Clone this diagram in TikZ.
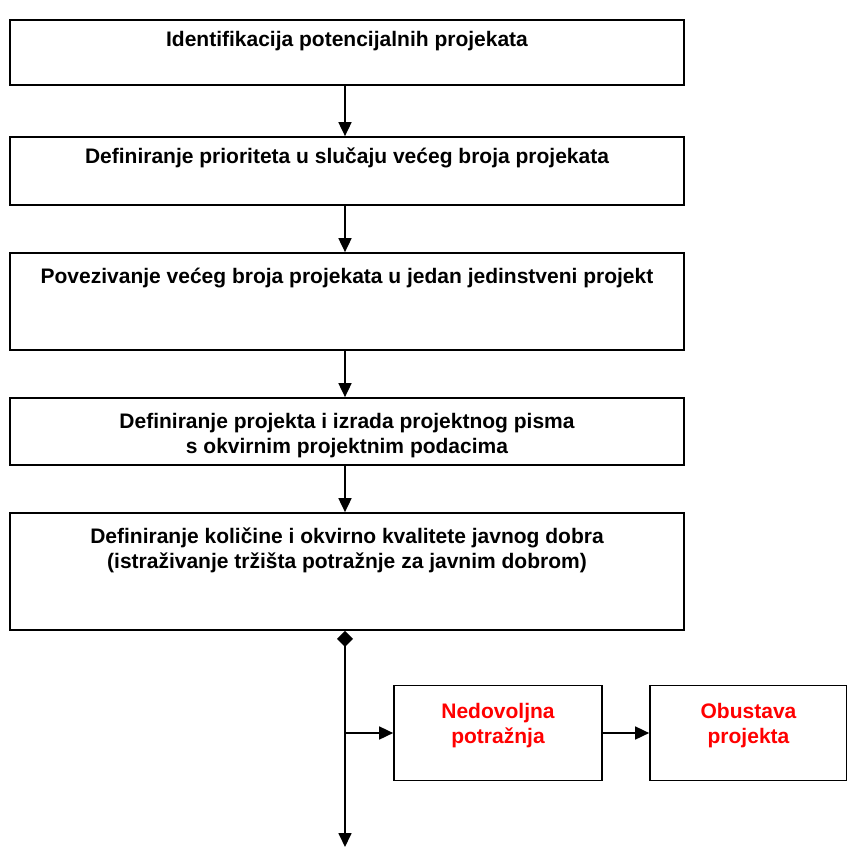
\documentclass[tikz,border=0pt]{standalone}
\usepackage{fontspec}
\setmainfont{Liberation Sans}
\usetikzlibrary{arrows.meta}
\begin{document}
\begin{tikzpicture}[x=1pt,y=1pt,
  box/.style={draw,line width=1.7pt,minimum width=674pt,inner sep=0pt},
  sidebox/.style={draw,line width=1.7pt,minimum width=208pt,minimum height=95pt,inner sep=0pt},
  txt/.style={font=\fontsize{21}{25}\selectfont\bfseries,align=center,inner sep=0pt,anchor=base},
  redtxt/.style={txt,text=red},
  flow/.style={line width=1.7pt,-{Triangle[length=14pt,width=13pt]}}]
\useasboundingbox (0,0) rectangle (847,-847);
% main column of steps
\node[box,minimum height=65pt] (b1) at (347,-52.5) {};
\node[box,minimum height=68pt] (b2) at (347,-171) {};
\node[box,minimum height=97pt] (b3) at (347,-301.5) {};
\node[box,minimum height=67pt] (b4) at (347,-431.5) {};
\node[box,minimum height=117pt] (b5) at (347,-571.5) {};
% step labels (base anchor sits on the last line)
\node[txt] (t1) at (347,-46) {Identifikacija potencijalnih projekata};
\node[txt] (t2) at (347,-163) {Definiranje prioriteta u slučaju većeg broja projekata};
\node[txt] (t3) at (347,-283) {Povezivanje većeg broja projekata u jedan jedinstveni projekt};
\node[txt] (t4) at (347,-453) {Definiranje projekta i izrada projektnog pisma\\ s okvirnim projektnim podacima};
\node[txt] (t5) at (347,-568) {Definiranje količine i okvirno kvalitete javnog dobra\\(istraživanje tržišta potražnje za javnim dobrom)};
% side branch
\node[sidebox] (n1) at (498,-733) {};
\node[sidebox,minimum width=197pt] (n2) at (748.5,-733) {};
\node[redtxt] (r1) at (498,-743) {Nedovoljna\\potražnja};
\node[redtxt] (r2) at (748.5,-743) {Obustava\\projekta};
% connectors
\coordinate (x1) at (345,-85);
\draw[flow] (b1.south -| x1) -- (b2.north -| x1);
\draw[flow] (b2.south -| x1) -- (b3.north -| x1);
\draw[flow] (b3.south -| x1) -- (b4.north -| x1);
\draw[flow] (b4.south -| x1) -- (b5.north -| x1);
\coordinate (end) at (345,-847);
\coordinate (split) at (345,-733);
\draw[flow,{Diamond[length=16pt,width=16pt]}-{Triangle[length=14pt,width=13pt]}] (b5.south -| x1) -- (end);
\draw[flow] (split) -- (n1.west);
\draw[flow] (n1.east) -- (n2.west);
\end{tikzpicture}
\end{document}
